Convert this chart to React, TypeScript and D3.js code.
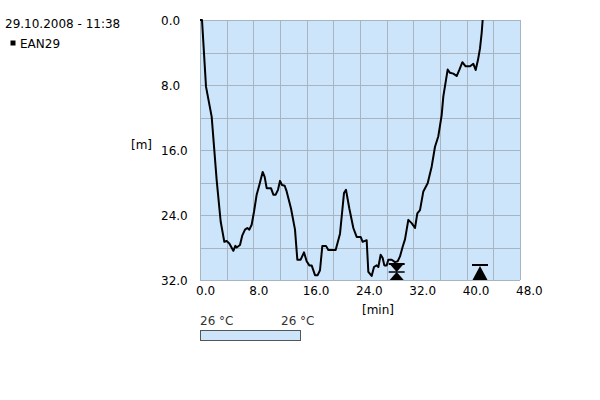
import React from "react";
import * as d3 from "d3";

const titleText = "29.10.2008 - 11:38";
const seriesName = "EAN29";
const xTicks = [0, 8, 16, 24, 32, 40, 48];
const yTicks = [0, 8, 16, 24, 32];
const xLabel = "[min]";
const yLabel = "[m]";
const tempLabels = ["26 °C", "26 °C"];

// time [min]
const times = [
  0, 0.3, 0.9, 1.75, 2.5, 3.1, 3.65, 4.0, 4.4, 5.0, 5.3, 5.5, 6.0, 6.35, 6.75, 7.1, 7.4, 7.75,
  8.1, 8.5, 8.9, 9.4, 9.7, 10.0, 10.65, 11.0, 11.35, 11.7, 12.0, 12.3, 12.7, 13.0, 13.65,
  14.25, 14.6, 15.1, 15.6, 16.0, 16.4, 16.75, 17.25, 17.65, 18.0, 18.35, 18.9, 19.25, 20.35,
  21.0, 21.6, 21.9, 22.4, 23.0, 23.5, 24.1, 24.4, 25.0, 25.25, 25.75, 26.1, 26.5, 26.75,
  27.1, 27.4, 27.65, 28.0, 28.25, 28.75, 29.25, 29.65, 30.0, 30.4, 30.75, 31.25, 31.75,
  32.25, 32.6, 33.0, 33.5, 34.15, 34.75, 35.25, 35.75, 36.25, 36.5, 37.15, 37.5, 38.0,
  38.5, 38.9, 39.35, 39.85, 40.5, 41.0, 41.35, 41.7, 42.0, 42.25, 42.4,
];
// depth [m]
const depths = [
  0, 0, 8.2, 11.9, 19.7, 24.8, 27.3, 27.2, 27.5, 28.4, 27.8, 28.0, 27.7, 26.5, 25.8, 25.6, 25.8, 25.2,
  23.6, 21.5, 20.3, 18.7, 19.3, 20.7, 20.7, 21.5, 21.5, 20.9, 19.8, 20.3, 20.4, 21.1, 23.2,
  25.8, 29.5, 29.5, 28.6, 29.7, 30.2, 30.2, 31.4, 31.4, 30.8, 27.8, 27.8, 28.3, 28.3,
  26.3, 21.3, 20.9, 23.2, 25.6, 26.7, 26.7, 27.3, 27.1, 31.0, 31.5, 30.4, 30.2, 30.4,
  28.9, 29.3, 30.2, 30.2, 29.5, 29.5, 29.8, 29.7, 29.1, 27.9, 27.0, 24.6, 25.0,
  25.6, 23.8, 23.4, 21.1, 20.1, 18.05, 15.6, 14.3, 11.7, 9.4, 6.1, 6.5, 6.6,
  6.9, 6.15, 5.2, 5.7, 5.7, 5.4, 6.15, 4.9, 3.5, 1.6, 0,
];

const markerTimes = [29.5, 42.0];
const markerKinds = ["bowtie", "up"];

const FONT = "DejaVu Sans";
const plotBg = "#cce5fb";
const gridColor = "#a8b4c0";

export default function App() {
  const x = d3.scaleLinear().domain([0, 48]).range([200, 520]);
  const y = d3.scaleLinear().domain([0, 32]).range([20, 280]);
  const pts: [number, number][] = times.map((t, i) => [t, depths[i]]);
  const line = d3
    .line<[number, number]>()
    .x((d) => x(d[0]))
    .y((d) => y(d[1]));
  const xGrid = d3.range(0, 48.001, 4);
  const yGrid = d3.range(0, 32.001, 4);
  const yB = y(32);

  return (
    <svg
      width={600}
      height={400}
      style={{ position: "absolute", left: 0, top: 0, background: "#fff" }}
      fontFamily={FONT}
      fontSize={12}
    >
      <text x={5} y={27.5} fill="#000">
        {titleText}
      </text>
      <rect x={10.5} y={40.5} width={5} height={5} fill="#000" />
      <text x={20} y={47.5} fill="#000">
        {seriesName}
      </text>

      <rect x={x(0)} y={y(0)} width={x(48) - x(0)} height={y(32) - y(0)} fill={plotBg} />
      {xGrid.map((v) => (
        <line
          key={"gx" + v}
          x1={Math.round(x(v)) + 0.5}
          x2={Math.round(x(v)) + 0.5}
          y1={y(0)}
          y2={y(32)}
          stroke={gridColor}
          strokeWidth={1}
        />
      ))}
      {yGrid.map((v) => (
        <line
          key={"gy" + v}
          x1={x(0)}
          x2={x(48)}
          y1={Math.round(y(v)) + 0.5}
          y2={Math.round(y(v)) + 0.5}
          stroke={gridColor}
          strokeWidth={1}
        />
      ))}

      <path d={line(pts) || ""} fill="none" stroke="#000" strokeWidth={2} strokeLinejoin="round" />

      {markerTimes.map((t, i) => {
        const cx = x(t);
        if (markerKinds[i] === "bowtie") {
          return (
            <g key={"m" + i}>
              <line x1={cx - 8} x2={cx + 8} y1={yB - 16} y2={yB - 16} stroke="#000" strokeWidth={2} />
              <path d={`M${cx - 7},${yB - 16}L${cx + 7},${yB - 16}L${cx},${yB - 8}Z`} fill="#000" />
              <line x1={cx - 8} x2={cx + 8} y1={yB - 8} y2={yB - 8} stroke="#000" strokeWidth={1.5} />
              <path d={`M${cx},${yB - 8}L${cx - 7},${yB}L${cx + 7},${yB}Z`} fill="#000" />
            </g>
          );
        }
        return (
          <g key={"m" + i}>
            <line x1={cx - 8} x2={cx + 8} y1={yB - 15} y2={yB - 15} stroke="#000" strokeWidth={2} />
            <path d={`M${cx},${yB - 14}L${cx - 7.5},${yB}L${cx + 7.5},${yB}Z`} fill="#000" />
          </g>
        );
      })}

      {yTicks.map((v) => (
        <text key={"yt" + v} x={161} y={y(v) + 4.5} fill="#000">
          {v.toFixed(1)}
        </text>
      ))}
      {xTicks.map((v) => (
        <text key={"xt" + v} x={x(v) - 4} y={295} fill="#000">
          {v.toFixed(1)}
        </text>
      ))}
      <text x={131} y={149} fill="#000">
        {yLabel}
      </text>
      <text x={362} y={314} fill="#000">
        {xLabel}
      </text>

      <text x={200} y={325} fill="#333">
        {tempLabels[0]}
      </text>
      <text x={281} y={325} fill="#333">
        {tempLabels[1]}
      </text>
      <rect x={200.5} y={330.5} width={100} height={10} fill={plotBg} stroke="#555" strokeWidth={1} />
    </svg>
  );
}
